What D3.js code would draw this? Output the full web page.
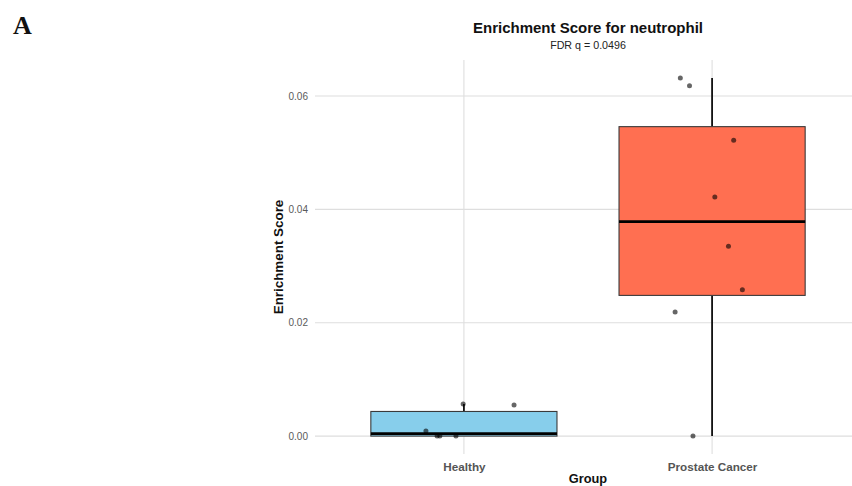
<!DOCTYPE html>
<html>
<head>
<meta charset="utf-8">
<script src="https://cdn.jsdelivr.net/npm/d3@7"></script>
<style>
  html, body { margin: 0; padding: 0; background: #fff; }
  svg { display: block; font-family: "Liberation Sans", Arial, sans-serif; }
</style>
</head>
<body>
<svg id="chart" width="852" height="486"></svg>
<script>
// Groups and their fill colours
const groups = ["Healthy", "Prostate Cancer"];
const groupColors = ["#87CEEB", "#FF6F51"];

// Per-sample enrichment scores
const healthyScores = [0.00088, 0.0, 0.0, 0.0, 0.00565, 0.0055];
const cancerScores = [0.0632, 0.0618, 0.0522, 0.0422, 0.0335, 0.0258, 0.0219, 0.0];

// Horizontal jitter of each sample (fraction of category step)
const healthyJitter = [-0.153, -0.108, -0.097, -0.032, -0.003, 0.202];
const cancerJitter = [-0.128, -0.091, 0.087, 0.011, 0.066, 0.122, -0.149, -0.077];

const yTicks = [0.00, 0.02, 0.04, 0.06];
const titleText = "Enrichment Score for neutrophil";
const subtitleText = "FDR q = 0.0496";
const panelLabel = "A";

const svg = d3.select("#chart");
const panel = { left: 315, right: 861, top: 60, bottom: 454 };

const allScores = healthyScores.concat(cancerScores);
const yMin = d3.min(allScores), yMax = d3.max(allScores);
const pad = (yMax - yMin) * 0.05;

const x = d3.scalePoint().domain(groups).range([panel.left, panel.right]).padding(0.6);
const y = d3.scaleLinear().domain([yMin - pad, yMax + pad]).range([panel.bottom, panel.top]);
const step = x.step();
const boxW = step * 0.75;

// Grid lines
const grid = svg.append("g");
grid.selectAll("line.h").data(yTicks).join("line")
  .attr("x1", panel.left).attr("x2", panel.right)
  .attr("y1", d => y(d)).attr("y2", d => y(d))
  .attr("stroke", "#dedede").attr("stroke-width", 1.1);
grid.selectAll("line.v").data(groups).join("line")
  .attr("x1", d => x(d)).attr("x2", d => x(d))
  .attr("y1", panel.top).attr("y2", panel.bottom)
  .attr("stroke", "#dedede").attr("stroke-width", 1.1);

// Y axis tick labels
const yAxis = d3.axisLeft(y).tickValues(yTicks).tickFormat(d3.format(".2f")).tickSize(0).tickPadding(7);
const ya = svg.append("g").attr("transform", `translate(${panel.left},0)`).call(yAxis);
ya.select(".domain").remove();
ya.selectAll("text").attr("fill", "#5a5a5a").attr("font-size", 10)
  .attr("font-family", "Liberation Sans, Arial, sans-serif");

// X axis tick labels
const xAxis = d3.axisBottom(x).tickSize(0).tickPadding(8.2);
const xa = svg.append("g").attr("transform", `translate(0,${panel.bottom})`).call(xAxis);
xa.select(".domain").remove();
xa.selectAll("text").attr("fill", "#555").attr("font-size", 11.7).attr("font-weight", "bold")
  .attr("font-family", "Liberation Sans, Arial, sans-serif");

// Box plots
const datasets = [healthyScores, cancerScores];
const jitters = [healthyJitter, cancerJitter];
const boxes = svg.append("g");
groups.forEach((g, i) => {
  const vals = datasets[i].slice().sort(d3.ascending);
  const q1 = d3.quantile(vals, 0.25), med = d3.quantile(vals, 0.5), q3 = d3.quantile(vals, 0.75);
  const iqr = q3 - q1;
  const lo = d3.min(vals.filter(v => v >= q1 - 1.5 * iqr));
  const hi = d3.max(vals.filter(v => v <= q3 + 1.5 * iqr));
  const cx = x(g);
  boxes.append("line").attr("x1", cx).attr("x2", cx).attr("y1", y(hi)).attr("y2", y(q3))
    .attr("stroke", "#111").attr("stroke-width", 1.8);
  boxes.append("line").attr("x1", cx).attr("x2", cx).attr("y1", y(q1)).attr("y2", y(lo))
    .attr("stroke", "#111").attr("stroke-width", 1.8);
  boxes.append("rect").attr("x", cx - boxW / 2).attr("width", boxW)
    .attr("y", y(q3)).attr("height", y(q1) - y(q3))
    .attr("fill", groupColors[i]).attr("stroke", "#3a3a3a").attr("stroke-width", 1.1);
  boxes.append("line").attr("x1", cx - boxW / 2).attr("x2", cx + boxW / 2)
    .attr("y1", y(med)).attr("y2", y(med))
    .attr("stroke", "#000").attr("stroke-width", 2.6);
});

// Jittered sample points
const pts = svg.append("g");
groups.forEach((g, i) => {
  pts.selectAll(null).data(datasets[i].map((v, k) => ({ v, j: jitters[i][k] }))).join("circle")
    .attr("cx", d => x(g) + d.j * step)
    .attr("cy", d => y(d.v))
    .attr("r", 2.5)
    .attr("fill", "#000").attr("fill-opacity", 0.6);
});

// Titles
const midX = (panel.left + panel.right) / 2;
svg.append("text").attr("x", midX).attr("y", 33).attr("text-anchor", "middle")
  .attr("font-size", 15).attr("font-weight", "bold").attr("fill", "#111").text(titleText);
svg.append("text").attr("x", midX).attr("y", 48.5).attr("text-anchor", "middle")
  .attr("font-size", 10.7).attr("fill", "#222").text(subtitleText);

// Axis titles
svg.append("text").attr("x", midX).attr("y", 482.5).attr("text-anchor", "middle")
  .attr("font-size", 12.8).attr("font-weight", "bold").attr("fill", "#111").text("Group");
svg.append("text").attr("transform", `translate(283,${(panel.top + panel.bottom) / 2}) rotate(-90)`)
  .attr("text-anchor", "middle").attr("font-size", 13.4).attr("font-weight", "bold")
  .attr("fill", "#111").text("Enrichment Score");

// Panel tag
svg.append("text").attr("x", 13).attr("y", 34)
  .attr("font-family", "Liberation Serif, Times New Roman, serif")
  .attr("font-size", 26).attr("font-weight", "bold").attr("fill", "#111").text(panelLabel);
</script>
</body>
</html>
